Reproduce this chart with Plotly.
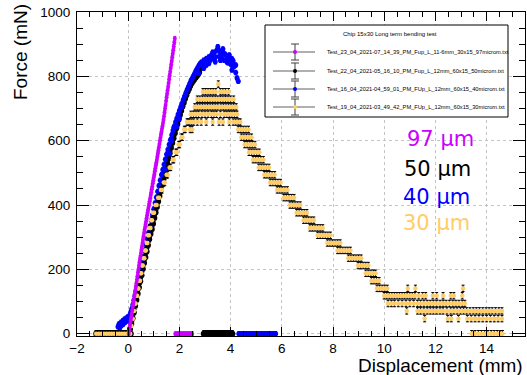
import plotly.graph_objects as go

# ---------------- data (displacement in mm, force in mN) ----------------
# 97 um chip: linear rise until fracture, then force drops to zero
mag_x = [0.02, 0.04, 0.06, 0.08, 0.10, 0.12, 0.14, 0.16, 0.18, 0.20,
         0.22, 0.24, 0.26, 0.28, 0.30, 0.32, 0.34, 0.36, 0.38, 0.40,
         0.42, 0.44, 0.46, 0.48, 0.50, 0.52, 0.54, 0.56, 0.58, 0.60,
         0.62, 0.64, 0.66, 0.68, 0.70, 0.72, 0.74, 0.76, 0.78, 0.80,
         0.82, 0.84, 0.86, 0.88, 0.90, 0.92, 0.94, 0.96, 0.98, 1.00,
         1.02, 1.04, 1.06, 1.08, 1.10, 1.12, 1.14, 1.16, 1.18, 1.20,
         1.22, 1.24, 1.26, 1.28, 1.30, 1.32, 1.34, 1.36, 1.38, 1.40,
         1.42, 1.44, 1.46, 1.48, 1.50, 1.52, 1.54, 1.56, 1.58, 1.60,
         1.62, 1.64, 1.66, 1.68, 1.70, 1.72, 1.74, 1.76, 1.78, 1.80,
         1.82]
mag_f = [0, 11, 22, 31, 41, 51, 62, 74, 85, 94,
         104, 115, 125, 135, 146, 157, 168, 179, 190, 200,
         211, 222, 232, 242, 252, 262, 272, 283, 293, 303,
         313, 323, 332, 341, 350, 359, 368, 377, 386, 395,
         404, 412, 421, 431, 440, 449, 458, 468, 477, 486,
         495, 505, 514, 523, 532, 541, 551, 560, 570, 580,
         590, 600, 609, 619, 628, 637, 646, 655, 665, 676,
         688, 700, 711, 723, 735, 746, 757, 768, 779, 791,
         803, 814, 826, 837, 848, 859, 870, 881, 893, 905,
         918]
mag_zero_x = [1.84, 1.90, 1.96, 2.02, 2.08, 2.14, 2.20, 2.26, 2.32, 2.38, 2.44, 2.50]

# 50 um chip
black_pre_x = [-1.25, -1.15, -1.05, -0.95, -0.85, -0.75, -0.65, -0.55, -0.45,
               -0.35, -0.25, -0.15, -0.05, 0.05, 0.10]
black_x = [0.02, 0.07, 0.12, 0.17, 0.22, 0.27, 0.32, 0.37, 0.42, 0.47, 0.52, 0.57,
           0.62, 0.67, 0.72, 0.77, 0.82, 0.87, 0.92, 0.97, 1.02, 1.07, 1.12, 1.17,
           1.22, 1.27, 1.32, 1.37, 1.42, 1.47, 1.52, 1.57, 1.62, 1.67, 1.72, 1.77,
           1.82, 1.87, 1.92, 1.97, 2.02, 2.07, 2.12, 2.17, 2.22, 2.27, 2.32, 2.37,
           2.42, 2.47, 2.52, 2.57, 2.62, 2.67, 2.72, 2.77, 2.82, 2.86]
black_f = [5, 15, 30, 48, 66, 86, 105, 124, 144, 163, 182, 201,
           220, 238, 256, 275, 294, 310, 325, 342, 360, 377, 394, 411,
           428, 445, 462, 479, 496, 512, 529, 545, 561, 577, 593, 608,
           623, 638, 652, 666, 680, 693, 706, 718, 730, 741, 752, 761,
           770, 778, 785, 790, 796, 800, 806, 812, 826, 840]
black_zero_x = [2.95, 3.03, 3.11, 3.19, 3.27, 3.35, 3.43, 3.51, 3.59, 3.67,
                3.75, 3.83, 3.91, 3.99, 4.07]

# 40 um chip
blue_x = [-0.40, -0.36, -0.33, -0.29, -0.26, -0.22, -0.19, -0.15, -0.12, -0.08,
          -0.05, -0.02, 0.02, 0.05, 0.08, 0.11, 0.14, 0.18, 0.22, 0.26, 0.30,
          0.34, 0.38, 0.42, 0.46, 0.50, 0.55, 0.60, 0.65, 0.70, 0.75, 0.80, 0.85,
          0.90, 0.95, 1.00, 1.05, 1.10, 1.15, 1.20, 1.25, 1.30, 1.35, 1.40, 1.45,
          1.50, 1.55, 1.60, 1.65, 1.70, 1.75, 1.80, 1.85, 1.90, 1.95, 2.00, 2.05,
          2.10, 2.15, 2.20, 2.25, 2.30, 2.35, 2.40, 2.45, 2.50, 2.55, 2.60, 2.65,
          2.70, 2.75, 2.80, 2.85, 2.90, 2.95, 3.00, 3.05, 3.10, 3.15, 3.20, 3.25,
          3.30, 3.35, 3.40, 3.45, 3.50, 3.55, 3.60, 3.65, 3.70, 3.75, 3.80, 3.85,
          3.90, 3.95, 4.00, 4.05, 4.10, 4.15, 4.20, 4.25, 4.30,
          1.45, 1.62, 1.70, 1.78, 1.90, 2.00, 2.10, 2.75, 2.95, 3.05, 3.15, 3.30,
          3.40, 3.55, 3.60, 3.70, 3.75, 3.85, 3.95, 4.05, 4.10, 4.20]
blue_f = [22, 30, 18, 35, 26, 40, 30, 45, 36, 48,
          40, 52, 45, 55, 62, 70, 78, 90, 104, 118, 132,
          146, 160, 174, 188, 203, 222, 240, 258, 277, 296, 315, 334,
          352, 370, 388, 406, 424, 442, 460, 477, 494, 510, 526, 542,
          558, 573, 588, 603, 618, 632, 645, 658, 670, 682, 694, 705,
          716, 727, 738, 748, 758, 768, 777, 786, 794, 802, 810, 818,
          825, 832, 838, 843, 835, 850, 842, 855, 846, 860, 850, 866,
          855, 872, 860, 880, 892, 862, 876, 858, 872, 850, 868, 855,
          842, 866, 838, 820, 848, 832, 812, 795, 785,
          510, 560, 600, 640, 645, 670, 705, 810, 825, 835, 840, 875,
          845, 880, 850, 885, 870, 845, 850, 855, 830, 835]
blue_zero_x = [4.32, 4.40, 4.48, 4.56, 4.64, 4.72, 4.80, 4.88, 4.96, 5.04,
               5.12, 5.20, 5.28, 5.36, 5.44, 5.52, 5.60, 5.68, 5.76]

# 30 um chip: pre-contact, rising edge, then digitised force levels
orange_pre_x = [-1.25, -1.15, -1.05, -0.95, -0.85, -0.75, -0.65, -0.55, -0.45,
                -0.35, -0.25, -0.15, -0.05, 0.03, 0.08]
orange_rise_x = [0.10, 0.13, 0.15, 0.18, 0.20, 0.23, 0.26, 0.29, 0.32, 0.35,
                 0.37, 0.40, 0.43, 0.46, 0.48, 0.51, 0.54, 0.57, 0.60, 0.63,
                 0.66, 0.69, 0.72, 0.75, 0.78, 0.81, 0.84, 0.87, 0.90, 0.93,
                 0.97, 1.01, 1.07, 1.11, 1.17, 1.21, 1.28, 1.32, 1.39, 1.43,
                 1.50, 1.54, 1.62, 1.66, 1.74, 1.78, 1.86, 1.90, 1.97, 2.01,
                 2.08, 2.12, 2.19, 2.23, 2.30, 2.34]
orange_rise_f = [24, 24, 47, 47, 71, 71, 94, 94, 118, 118,
                 141, 141, 165, 165, 188, 188, 212, 212, 235, 235,
                 259, 259, 282, 282, 306, 306, 329, 329, 353, 353,
                 376, 376, 400, 400, 423, 423, 447, 447, 470, 470,
                 494, 494, 517, 517, 541, 541, 564, 564, 588, 588,
                 611, 611, 635, 635, 658, 658]
orange_levels = [776, 752, 729, 705, 682, 658, 635, 611, 588, 564, 541, 517,
                 494, 470, 447, 423, 400, 376, 353, 329, 306, 282, 259, 235,
                 212, 188, 165, 141, 118, 94, 71, 47, 0]
orange_level_x = [
    [3.52],
    [2.92, 3.02, 3.12, 3.22, 3.32, 3.42, 3.60, 3.70, 3.80, 3.92],
    [2.70, 2.80, 2.90, 3.00, 3.10, 3.20, 3.30, 3.40, 3.50, 3.60, 3.70, 3.80,
     3.90, 4.00, 4.12],
    [2.60, 2.70, 2.80, 2.90, 3.00, 3.10, 3.20, 3.30, 3.40, 3.50, 3.62, 3.72,
     3.82, 3.92, 4.02, 4.12, 4.22],
    [2.45, 2.55, 2.65, 2.75, 2.88, 3.00, 3.12, 3.25, 3.35, 3.45, 3.60, 3.75,
     3.85, 3.95, 4.05, 4.15, 4.25],
    [2.40, 2.48, 2.56, 2.70, 2.85, 3.05, 3.30, 3.55, 3.70, 3.95, 4.10, 4.20,
     4.30, 4.38],
    [2.42, 2.50, 4.30, 4.40, 4.50, 4.60, 4.70],
    [4.42, 4.52, 4.62, 4.72, 4.82],
    [4.55, 4.65, 4.75, 4.85, 4.95],
    [4.72, 4.82, 4.92, 5.02, 5.12],
    [4.88, 4.98, 5.08, 5.18, 5.28],
    [5.10, 5.20, 5.30, 5.40, 5.50],
    [5.32, 5.42, 5.52, 5.62, 5.72],
    [5.55, 5.65, 5.75, 5.85, 5.95],
    [5.82, 5.92, 6.02, 6.12, 6.22],
    [6.08, 6.18, 6.28, 6.38, 6.48],
    [6.32, 6.42, 6.52, 6.62, 6.72],
    [6.58, 6.68, 6.78, 6.88, 6.98],
    [6.85, 6.95, 7.05, 7.15, 7.25],
    [7.10, 7.20, 7.30, 7.40, 7.50, 7.60],
    [7.40, 7.50, 7.60, 7.70, 7.80, 7.90],
    [7.78, 7.88, 7.98, 8.08, 8.18, 8.28],
    [8.18, 8.28, 8.38, 8.48, 8.58, 8.68],
    [8.60, 8.70, 8.80, 8.90, 9.00, 9.10],
    [8.98, 9.08, 9.18, 9.28, 9.38],
    [9.28, 9.38, 9.48, 9.58, 9.66],
    [9.50, 9.60, 9.70, 9.80],
    [9.72, 9.82, 9.92, 10.02, 10.12, 10.92, 11.22, 13.08],
    [10.00, 10.10, 10.20, 10.30, 10.40, 10.50, 10.60, 10.70, 10.80, 10.90,
     11.00, 11.10, 11.20, 11.35, 11.50, 11.62, 11.90, 12.05, 12.30, 12.60,
     12.72, 13.05],
    [10.15, 10.28, 10.40, 10.55, 10.70, 10.85, 11.00, 11.15, 11.30, 11.42,
     11.55, 11.68, 11.80, 11.92, 12.05, 12.18, 12.30, 12.42, 12.55, 12.68,
     12.80, 12.92, 13.05, 13.15],
    [10.88, 11.30, 11.42, 11.55, 11.68, 11.80, 11.92, 12.05, 12.18, 12.30,
     12.45, 12.60, 12.72, 12.85, 12.98, 13.10, 13.22, 13.35, 13.48, 13.60,
     13.72, 13.85, 13.98, 14.10, 14.22, 14.35, 14.48, 14.60],
    [11.58, 12.48, 12.62, 12.90, 13.25, 13.40, 13.55, 13.70, 13.85, 14.00,
     14.15, 14.30, 14.45, 14.60],
    [13.42, 13.55, 13.68, 13.80, 13.92, 14.05, 14.18, 14.30, 14.42, 14.55,
     14.62],
]

legend_title = "Chip 15x30 Long term bending test"
legend_files = [
    "Test_23_04_2021-07_14_39_PM_Fup_L_11-6mm_30x15_97microm.txt",
    "Test_22_04_2021-05_16_10_PM_Fup_L_12mm_60x15_50microm.txt",
    "Test_16_04_2021-04_59_01_PM_FUp_L_12mm_60x15_40microm.txt",
    "Test_19_04_2021-03_49_42_PM_FUp_L_12mm_60x15_30microm.txt",
]
thickness_labels = ["97 \u00b5m", "50 \u00b5m", "40 \u00b5m", "30 \u00b5m"]

MAGENTA = "#cc00ff"
BLACK = "#000000"
BLUE = "#0000ff"
ORANGE = "#ffcc66"
series_colors = [MAGENTA, BLACK, BLUE, ORANGE]

# ---------------- assemble the series ----------------
mx = mag_x + mag_zero_x
mf = mag_f + [0] * len(mag_zero_x)
bx = black_pre_x + black_x + black_zero_x
bf = [0] * len(black_pre_x) + black_f + [0] * len(black_zero_x)
ux = blue_x + blue_zero_x
uf = blue_f + [0] * len(blue_zero_x)
ox = orange_pre_x + orange_rise_x
of = [0] * len(orange_pre_x) + orange_rise_f
for lvl, xs in zip(orange_levels, orange_level_x):
    ox += xs
    of += [lvl] * len(xs)


def series(x, y, color, size, err, err_color, name):
    return go.Scatter(
        x=x, y=y, mode="markers", name=name, showlegend=False,
        marker=dict(color=color, size=size, line=dict(width=0)),
        error_y=dict(type="constant", value=err, color=err_color,
                     thickness=1, width=1.5),
    )


fig = go.Figure()
fig.add_trace(series(bx, bf, BLACK, 6, 10, BLACK, "50 um"))
fig.add_trace(series(ux, uf, BLUE, 5, 7, BLUE, "40 um"))
fig.add_trace(series(ox, of, ORANGE, 4.5, 10, BLACK, "30 um"))
fig.add_trace(series(mx, mf, MAGENTA, 4, 6, MAGENTA, "97 um"))

# ---------------- layout ----------------
W, H = 527, 375
ML, MR, MT, MB = 77, 2, 12, 39
PW, PH = W - ML - MR, H - MT - MB


def fx(px):
    return (px - ML) / PW


def fy(py):
    return (H - MB - py) / PH


FONT = "Liberation Sans, Arial, Helvetica, sans-serif"
axis_common = dict(
    showline=True, linecolor="black", linewidth=1, mirror="ticks",
    ticks="inside", tickcolor="black", tickwidth=1,
    showgrid=True, gridcolor="#c4c4c4", griddash="dot", gridwidth=1,
    zeroline=False, tickfont=dict(family=FONT, size=13.5, color="black"),
)

fig.update_layout(
    width=W, height=H,
    margin=dict(l=ML, r=MR, t=MT, b=MB, pad=0),
    paper_bgcolor="white", plot_bgcolor="white",
    showlegend=False,
    xaxis=dict(range=[-2, 15.5], tick0=0, dtick=2, ticklen=9,
               minor=dict(ticks="inside", ticklen=5, dtick=0.5, tick0=0,
                          tickcolor="black", showgrid=False),
               **axis_common),
    yaxis=dict(range=[-7, 1000], tick0=0, dtick=200, ticklen=12,
               ticklabelstandoff=3,
               minor=dict(ticks="inside", ticklen=6, dtick=50, tick0=0,
                          tickcolor="black", showgrid=False),
               **axis_common),
)

shapes = []
annotations = []

# axis titles
annotations.append(dict(text="Force (mN)", x=fx(20), y=fy(52), xref="paper",
                        yref="paper", showarrow=False, textangle=-90,
                        font=dict(family=FONT, size=19, color="black"),
                        xanchor="center", yanchor="middle"))
annotations.append(dict(text="Displacement (mm)", x=fx(525), y=fy(365),
                        xref="paper", yref="paper", showarrow=False,
                        font=dict(family=FONT, size=19, color="black"),
                        xanchor="right", yanchor="middle"))

# legend box
shapes.append(dict(type="rect", xref="paper", yref="paper",
                   x0=fx(265), x1=fx(508), y0=fy(117), y1=fy(25),
                   line=dict(color="black", width=1), fillcolor="white",
                   layer="above"))
annotations.append(dict(text=legend_title, x=fx(390), y=fy(34), xref="paper",
                        yref="paper", showarrow=False,
                        font=dict(family=FONT, size=6, color="black"),
                        xanchor="center", yanchor="middle"))
row_y = [52, 71, 89, 107]
for ry, fname, col in zip(row_y, legend_files, series_colors):
    shapes.append(dict(type="line", xref="paper", yref="paper",
                       x0=fx(273), x1=fx(315), y0=fy(ry), y1=fy(ry),
                       line=dict(color="#606060", width=1), layer="above"))
    shapes.append(dict(type="line", xref="paper", yref="paper",
                       x0=fx(295), x1=fx(295), y0=fy(ry - 8), y1=fy(ry + 8),
                       line=dict(color="#404040", width=1), layer="above"))
    for cy in (ry - 8, ry + 8):
        shapes.append(dict(type="line", xref="paper", yref="paper",
                           x0=fx(291), x1=fx(299), y0=fy(cy), y1=fy(cy),
                           line=dict(color="#404040", width=1), layer="above"))
    shapes.append(dict(type="circle", xref="paper", yref="paper",
                       x0=fx(293), x1=fx(297), y0=fy(ry + 2), y1=fy(ry - 2),
                       line=dict(width=0), fillcolor=col, layer="above"))
    annotations.append(dict(text=fname, x=fx(325), y=fy(ry), xref="paper",
                            yref="paper", showarrow=False,
                            font=dict(family=FONT, size=5.7, color="black"),
                            xanchor="left", yanchor="middle"))

# chip thickness labels
label_pos = [(405, 139), (402, 169), (401, 197), (401, 223)]
for (lx, ly), txt, col in zip(label_pos, thickness_labels, series_colors):
    annotations.append(dict(text=txt, x=fx(lx), y=fy(ly), xref="paper",
                            yref="paper", showarrow=False,
                            font=dict(family="DejaVu Sans", size=21, color=col),
                            xanchor="left", yanchor="middle"))

fig.update_layout(shapes=shapes, annotations=annotations)
fig.write_html("out.html")
